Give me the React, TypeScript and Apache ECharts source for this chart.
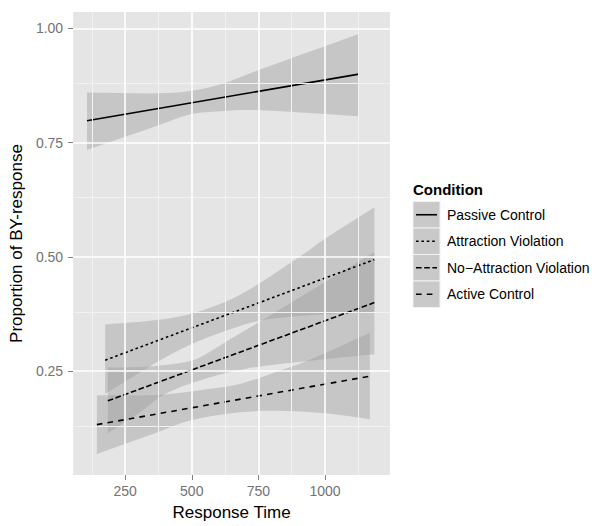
import React, { useEffect, useRef } from "react";
import * as echarts from "echarts";

const conditions = ["Passive Control", "Attraction Violation", "No\u2212Attraction Violation", "Active Control"];
const lineDashes: (number[] | "solid")[] = ["solid", [2.6, 2.8], [5.6, 2.6], [5.6, 5.2]];

// fitted lines [responseTime, proportion]
const passiveLine = [[107, 0.798], [1127, 0.9]];
const attractionLine = [[175, 0.274], [1185, 0.494]];
const noAttractionLine = [[185, 0.185], [1185, 0.4]];
const activeLine = [[144, 0.133], [1168, 0.239]];

// confidence band edges
const passiveUpper = [[107, 0.86], [380, 0.858], [494, 0.863], [606, 0.877], [756, 0.91], [1127, 0.988]];
const passiveLower = [[107, 0.734], [381, 0.789], [494, 0.812], [606, 0.819], [756, 0.821], [1127, 0.808]];
const attractionUpper = [[175, 0.352], [419, 0.366], [550, 0.385], [681, 0.417], [906, 0.501], [1000, 0.54], [1185, 0.608]];
const attractionLower = [[175, 0.2], [356, 0.265], [494, 0.308], [650, 0.343], [769, 0.362], [950, 0.373], [1185, 0.38]];
const noAttractionUpper = [[185, 0.258], [356, 0.261], [494, 0.272], [560, 0.29], [644, 0.32], [769, 0.363], [1000, 0.445], [1185, 0.511]];
const noAttractionLower = [[185, 0.114], [306, 0.16], [400, 0.2], [560, 0.235], [700, 0.255], [900, 0.27], [1185, 0.287]];
const activeUpper = [[144, 0.197], [369, 0.198], [550, 0.21], [681, 0.222], [800, 0.245], [931, 0.272], [1168, 0.334]];
const activeLower = [[144, 0.069], [369, 0.116], [494, 0.142], [681, 0.16], [850, 0.163], [1000, 0.158], [1168, 0.145]];

const xTicks = [250, 500, 750, 1000];
const xMinor = [125, 375, 625, 875, 1125];
const yTicks = [0.25, 0.5, 0.75, 1.0];
const yMinor = [0.125, 0.375, 0.625, 0.875];

const FONT = "'Liberation Sans', Arial, Helvetica, sans-serif";

export default function App() {
  const ref = useRef<HTMLDivElement>(null);
  useEffect(() => {
    if (!ref.current) return;
    const chart = echarts.init(ref.current, undefined, { renderer: "svg" });
    const lines = [passiveLine, attractionLine, noAttractionLine, activeLine];
    const uppers = [passiveUpper, attractionUpper, noAttractionUpper, activeUpper];
    const lowers = [passiveLower, attractionLower, noAttractionLower, activeLower];

    const withEnds = (pts: number[][]) => [pts[0], ...pts, pts[pts.length - 1]];

    const bandSeries = conditions.map((name, i) => ({
      type: "custom",
      name: name + " band",
      z: 2,
      silent: true,
      encode: { x: 0, y: 1 },
      data: uppers[i].concat(lowers[i]),
      renderItem: (params: any, api: any) => {
        if (params.dataIndex !== 0) return null;
        const up = withEnds(uppers[i]).map((p) => api.coord(p));
        const lo = withEnds(lowers[i].slice().reverse()).map((p) => api.coord(p));
        return {
          type: "polygon",
          shape: { points: up.concat(lo), smooth: 0.35 },
          style: { fill: "rgba(153,153,153,0.4)" },
        };
      },
    }));

    const lineSeries = conditions.map((name, i) => ({
      type: "line",
      name,
      z: 3,
      data: lines[i],
      showSymbol: false,
      symbol: "none",
      silent: true,
      lineStyle: { color: "#000", width: 1.6, type: lineDashes[i] },
    }));

    const gridSeries = {
      type: "line",
      name: "grid",
      z: 1,
      data: [[55, 0.0228]],
      showSymbol: false,
      symbol: "none",
      silent: true,
      lineStyle: { width: 0 },
      markLine: {
        silent: true,
        symbol: "none",
        label: { show: false },
        animation: false,
        data: [
          ...xMinor.map((v) => ({ xAxis: v, lineStyle: { color: "#F2F2F2", width: 1, type: "solid" } })),
          ...yMinor.map((v) => ({ yAxis: v, lineStyle: { color: "#F2F2F2", width: 1, type: "solid" } })),
          ...xTicks.map((v) => ({ xAxis: v, lineStyle: { color: "#FFFFFF", width: 1.6, type: "solid" } })),
          ...yTicks.map((v) => ({ yAxis: v, lineStyle: { color: "#FFFFFF", width: 1.6, type: "solid" } })),
        ],
      },
    };

    const keyTop = 201.5;
    const keyH = 26.5;
    const legendGraphics: any[] = [
      {
        type: "text",
        left: 413,
        top: 182,
        style: { text: "Condition", font: `bold 15px ${FONT}`, fill: "#000" },
      },
    ];
    conditions.forEach((name, i) => {
      const y0 = keyTop + i * keyH;
      legendGraphics.push({
        type: "rect",
        shape: { x: 413, y: y0, width: 27, height: keyH },
        style: { fill: "#C9C9C9", stroke: "#F2F2F2", lineWidth: 1 },
      });
      legendGraphics.push({
        type: "line",
        shape: { x1: 416, y1: y0 + keyH / 2, x2: 437, y2: y0 + keyH / 2 },
        style: { stroke: "#000", lineWidth: 1.6, lineDash: lineDashes[i] === "solid" ? null : lineDashes[i] },
      });
      legendGraphics.push({
        type: "text",
        x: 447,
        y: y0 + keyH / 2,
        style: { text: name, font: `14px ${FONT}`, fill: "#000", textVerticalAlign: "middle", verticalAlign: "middle" },
      });
    });

    chart.setOption({
      animation: false,
      backgroundColor: "#FFFFFF",
      textStyle: { fontFamily: FONT },
      grid: { left: 73, right: 212, top: 12, bottom: 48, show: true, backgroundColor: "#E5E5E5", borderWidth: 0 },
      xAxis: {
        type: "value",
        min: 55,
        max: 1243.75,
        name: "Response Time",
        nameLocation: "middle",
        nameGap: 29,
        nameTextStyle: { fontSize: 17, color: "#000", fontFamily: FONT },
        axisLine: { show: false },
        splitLine: { show: false },
        axisTick: { show: true, length: 5, lineStyle: { color: "#7F7F7F", width: 1 }, customValues: xTicks },
        axisLabel: {
          fontSize: 14,
          color: "#737373",
          margin: 9,
          fontFamily: FONT,
          customValues: xTicks,
          formatter: (v: number) => String(v),
        },
      },
      yAxis: {
        type: "value",
        min: 0.0228,
        max: 1.0359,
        name: "Proportion of BY-response",
        nameLocation: "middle",
        nameGap: 46,
        nameTextStyle: { fontSize: 17, color: "#000", fontFamily: FONT },
        axisLine: { show: false },
        splitLine: { show: false },
        axisTick: { show: true, length: 5, lineStyle: { color: "#7F7F7F", width: 1 }, customValues: yTicks },
        axisLabel: {
          fontSize: 14,
          color: "#737373",
          margin: 10,
          fontFamily: FONT,
          customValues: yTicks,
          formatter: (v: number) => v.toFixed(2),
        },
      },
      series: [gridSeries, ...bandSeries, ...lineSeries],
      graphic: legendGraphics,
    });
    return () => chart.dispose();
  }, []);
  return <div ref={ref} style={{ position: "fixed", left: 0, top: 0, width: 602, height: 526 }} />;
}
